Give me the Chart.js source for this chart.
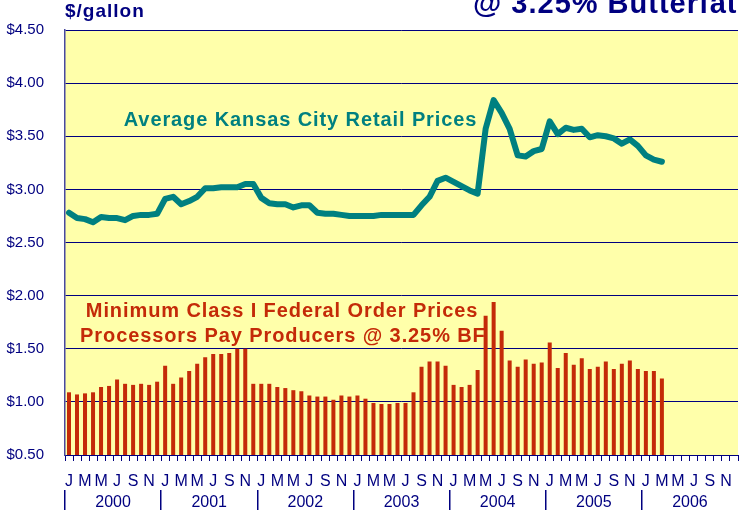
<!DOCTYPE html>
<html>
<head>
<meta charset="utf-8">
<script src="https://cdn.jsdelivr.net/npm/chart.js@4.4.0/dist/chart.umd.min.js"></script>
<style>
body{margin:0;background:#fff;}
#wrap{position:relative;width:740px;height:516px;}
</style>
</head>
<body>
<div id="wrap"><canvas id="milk"></canvas></div>
<script>
var monthLetters = ['J','F','M','A','M','J','J','A','S','O','N','D'];
var yearLabels = ['2000','2001','2002','2003','2004','2005','2006'];

// Average Kansas City retail price, Jan 2000 - Mar 2006
var retailPrices = [
	2.78, 2.73, 2.72, 2.69, 2.74, 2.73, 2.73, 2.71, 2.75, 2.76, 2.76, 2.77,
	2.91, 2.93, 2.86, 2.89, 2.93, 3.01, 3.01, 3.02, 3.02, 3.02, 3.05, 3.05,
	2.92, 2.87, 2.86, 2.86, 2.83, 2.85, 2.85, 2.78, 2.77, 2.77, 2.76, 2.75,
	2.75, 2.75, 2.75, 2.76, 2.76, 2.76, 2.76, 2.76, 2.85, 2.93, 3.08, 3.11,
	3.07, 3.03, 2.99, 2.96, 3.57, 3.84, 3.72, 3.57, 3.32, 3.31, 3.36, 3.38,
	3.64, 3.52, 3.58, 3.56, 3.57, 3.49, 3.51, 3.50, 3.48, 3.43, 3.47, 3.41,
	3.32, 3.28, 3.26
];

// Minimum Class I federal order price @ 3.25% BF
var classIPrices = [
	1.09, 1.07, 1.08, 1.09, 1.14, 1.15, 1.21, 1.17, 1.16, 1.17, 1.16, 1.19,
	1.34, 1.17, 1.23, 1.29, 1.36, 1.42, 1.45, 1.45, 1.46, 1.50, 1.50, 1.17,
	1.17, 1.17, 1.14, 1.13, 1.11, 1.10, 1.06, 1.05, 1.05, 1.02, 1.06, 1.05,
	1.06, 1.03, 0.99, 0.98, 0.98, 0.99, 0.99, 1.09, 1.33, 1.38, 1.38, 1.34,
	1.16, 1.14, 1.16, 1.30, 1.81, 1.94, 1.67, 1.39, 1.33, 1.40, 1.36, 1.37,
	1.56, 1.32, 1.46, 1.35, 1.41, 1.31, 1.33, 1.38, 1.31, 1.36, 1.39, 1.31,
	1.29, 1.29, 1.22
];

var navy = '#000080';
var teal = '#008080';
var red = '#C42A08';
var font = 'Arial, "Liberation Sans", sans-serif';

var labels = [];
for (var y = 0; y < yearLabels.length; y++) {
	for (var m = 0; m < 12; m++) {
		labels.push(monthLetters[m]);
	}
}

var notes = [
	{text: 'Average Kansas City Retail Prices', x: 28.9, y: 3.65, color: teal},
	{text: 'Minimum Class I Federal Order Prices', x: 26.6, y: 1.85, color: red},
	{text: 'Processors Pay Producers @ 3.25% BF', x: 26.7, y: 1.615, color: red}
];

var plotBg = {
	id: 'plotBg',
	beforeDraw: function(chart){
		var a = chart.chartArea, c = chart.ctx;
		c.save();
		c.fillStyle = '#FFFFAA';
		c.fillRect(a.left, a.top, a.right - a.left, a.bottom - a.top);
		c.restore();
	}
};

var textPlugin = {
	id: 'texts',
	afterDatasetsDraw: function(chart){
		var c = chart.ctx, xs = chart.scales.x, ys = chart.scales.y;
		c.save();
		c.letterSpacing = '0.9px';
		c.font = 'bold 20px ' + font;
		c.textAlign = 'center';
		c.textBaseline = 'middle';
		for (var i = 0; i < notes.length; i++) {
			c.fillStyle = notes[i].color;
			c.fillText(notes[i].text, xs.getPixelForValue(notes[i].x), ys.getPixelForValue(notes[i].y));
		}
		c.restore();
	},
	afterDraw: function(chart){
		var c = chart.ctx;
		c.save();
		c.fillStyle = navy;
		c.textAlign = 'left';
		c.textBaseline = 'alphabetic';
		c.letterSpacing = '1px';
		c.font = 'bold 19px ' + font;
		c.fillText('$/gallon', chart.chartArea.left, 17);
		c.font = 'bold 29px ' + font;
		c.fillText('@ 3.25% Butterfat', 473, 13);
		c.restore();
	}
};

var mychart = new Chart(document.getElementById('milk'), {
	type: 'bar',
	data: {
		labels: labels,
		datasets: [
			{
				type: 'line',
				label: 'Average Kansas City Retail Prices',
				data: retailPrices,
				borderColor: teal,
				borderWidth: 6,
				borderJoinStyle: 'round',
				borderCapStyle: 'round',
				pointRadius: 0,
				tension: 0,
				fill: false,
				order: 0
			},
			{
				type: 'bar',
				label: 'Minimum Class I Federal Order Prices',
				data: classIPrices,
				backgroundColor: red,
				borderWidth: 0,
				barPercentage: 0.5,
				categoryPercentage: 1,
				order: 1
			}
		]
	},
	options: {
		responsive: true,
		maintainAspectRatio: false,
		animation: false,
		layout: {padding: {top: 25, right: 2, bottom: 0, left: 0}},
		plugins: {legend: {display: false}, tooltip: {enabled: false}},
		scales: {
			x: {
				position: 'bottom',
				afterFit: function(s){ s.height = 35; s.paddingLeft = 0; s.paddingRight = 0; },
				grid: {offset: true, drawOnChartArea: false, tickLength: 6, color: navy},
				border: {color: navy, width: 1},
				ticks: {
					autoSkip: false, maxRotation: 0, padding: 11, color: navy,
					font: {family: font, size: 16},
					callback: function(value, index){ return index % 2 == 0 ? this.getLabelForValue(value) : ''; }
				}
			},
			xYear: {
				type: 'linear',
				position: 'bottom',
				min: 0,
				max: 84,
				offset: false,
				bounds: 'data',
				afterBuildTicks: function(s){
					var t = [];
					for (var v = 0; v <= 84; v += 6) t.push({value: v});
					s.ticks = t;
				},
				afterFit: function(s){ s.height = 26; s.paddingLeft = 0; s.paddingRight = 0; },
				grid: {
					offset: false,
					drawOnChartArea: false,
					tickLength: 20,
					lineWidth: 1.5,
					color: function(ctx){
						return (ctx.tick && ctx.tick.value % 12 == 0 && ctx.tick.value < 84) ? navy : 'rgba(0,0,0,0)';
					}
				},
				border: {display: false},
				ticks: {
					autoSkip: false, maxRotation: 0, maxTicksLimit: 20, padding: -17, color: navy,
					font: {family: font, size: 16},
					callback: function(v){ return v % 12 == 6 ? yearLabels[(v - 6) / 12] : ''; }
				}
			},
			y: {
				min: 0.5,
				max: 4.5,
				afterFit: function(s){ s.width = 65; },
				grid: {color: navy, drawTicks: false, lineWidth: 1},
				border: {color: '#4848a0', width: 1.5},
				ticks: {
					stepSize: 0.5, padding: 21, color: navy,
					font: {family: font, size: 15},
					callback: function(v){ return '$' + v.toFixed(2); }
				}
			}
		}
	},
	plugins: [plotBg, textPlugin]
});
</script>
</body>
</html>
